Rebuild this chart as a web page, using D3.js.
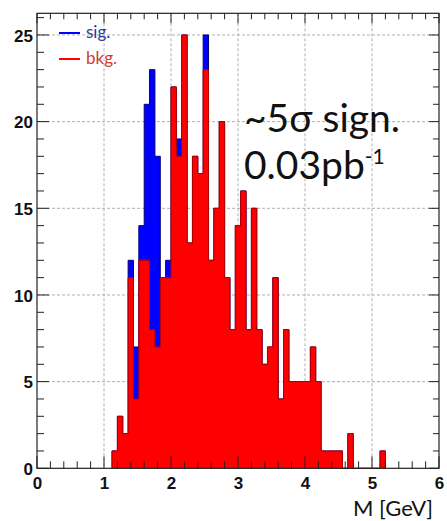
<!DOCTYPE html>
<html>
<head>
<meta charset="utf-8">
<script src="https://cdn.jsdelivr.net/npm/d3@7"></script>
<style>
  html, body { margin: 0; padding: 0; background: #fff; }
  svg { display: block; }
</style>
</head>
<body>
<svg id="chart" width="447" height="521"></svg>
<script>
// ---- data ----
const binWidth = 0.08;          // GeV
const firstBinLow = 1.12;       // GeV, lower edge of the first listed bin
const bkgCounts = [1,3,2,11,4,12,12,8,7,11,11,22,18,25,13,18,17,23,12,15,20,11,8,14,16,8,15,8,6,7,11,4,8,5,5,5,5,7,5,1,1,1,1,0,2,0,0,0,0,0,1];
const sigCounts = [0,0,0,1,3,2,9,15,11,0,1,0,1,0,0,0,0,2,0,0,0,0,0,0,0,0,0,0,0,0,0,0,0,0,0,0,0,0,0,0,0,0,0,0,0,0,0,0,0,0,0];
const xTicks = [0,1,2,3,4,5,6];
const yTicks = [0,5,10,15,20,25];
const legendItems = [{name:"sig.", color:"#0000ff", text:"#2e3a9c"}, {name:"bkg.", color:"#ff0000", text:"#d23b32"}];

// ---- layout ----
const svg = d3.select("#chart");
const pL = 37, pR = 439, pT = 13.3, pB = 468.3;
const x = d3.scaleLinear().domain([0, 6]).range([pL, pR]);
const y = d3.scaleLinear().domain([0, 26.25]).range([pB, pT]);

// grid
const grid = svg.append("g").attr("stroke", "#b0b0b0").attr("stroke-width", 1).attr("stroke-dasharray", "3,2");
xTicks.filter(d => d > 0 && d < 6).forEach(d => {
  grid.append("line").attr("x1", x(d)).attr("x2", x(d)).attr("y1", pT).attr("y2", pB);
});
yTicks.filter(d => d > 0).forEach(d => {
  grid.append("line").attr("x1", pL).attr("x2", pR).attr("y1", y(d)).attr("y2", y(d));
});

// histogram step points
function stepPoints(vals) {
  const pts = [[firstBinLow, 0]];
  vals.forEach((v, i) => {
    const lo = firstBinLow + i * binWidth, hi = lo + binWidth;
    pts.push([lo, v], [hi, v]);
  });
  pts.push([firstBinLow + vals.length * binWidth, 0]);
  return pts;
}
const totalCounts = bkgCounts.map((b, i) => b + sigCounts[i]);
const line = d3.line().x(d => x(d[0])).y(d => y(d[1]));
const area = d3.area().x(d => x(d[0])).y0(y(0)).y1(d => y(d[1]));

svg.append("path").datum(stepPoints(totalCounts)).attr("d", area).attr("fill", "#0000ff");
svg.append("path").datum(stepPoints(totalCounts)).attr("d", line).attr("fill", "none").attr("stroke", "#00007a").attr("stroke-width", 1);
svg.append("path").datum(stepPoints(bkgCounts)).attr("d", area).attr("fill", "#ff0000");
svg.append("path").datum(stepPoints(bkgCounts)).attr("d", line).attr("fill", "none").attr("stroke", "#b00000").attr("stroke-width", 1);

// frame
svg.append("rect").attr("x", pL).attr("y", pT).attr("width", pR - pL).attr("height", pB - pT)
  .attr("fill", "none").attr("stroke", "#222").attr("stroke-width", 1.2);

// ticks (inward on all four sides)
const tk = svg.append("g").attr("stroke", "#222").attr("stroke-width", 1);
d3.range(0, 6.0001, 0.2).forEach(v => {
  const major = Math.abs(v - Math.round(v)) < 1e-6;
  const L = major ? 12 : 7;
  tk.append("line").attr("x1", x(v)).attr("x2", x(v)).attr("y1", pB).attr("y2", pB - L);
  tk.append("line").attr("x1", x(v)).attr("x2", x(v)).attr("y1", pT).attr("y2", pT + (major ? 10 : 6));
});
d3.range(0, 26.0001, 1).forEach(v => {
  const major = v % 5 === 0;
  const L = major ? 12 : 7;
  tk.append("line").attr("x1", pL).attr("x2", pL + L).attr("y1", y(v)).attr("y2", y(v));
  tk.append("line").attr("x1", pR).attr("x2", pR - (major ? 10 : 6)).attr("y1", y(v)).attr("y2", y(v));
});

// axes labels via d3 axes (tick labels only)
const xAxis = d3.axisBottom(x).tickValues(xTicks).tickSize(0).tickPadding(0).tickFormat(d3.format("d"));
const gx = svg.append("g").attr("transform", `translate(0,${pB + 5})`).call(xAxis);
gx.select(".domain").remove();
gx.selectAll("text").attr("font-family", "Liberation Sans, Arial, sans-serif").attr("font-weight", "bold")
  .attr("font-size", 17).attr("fill", "#111").attr("dy", "0.95em");

const yAxis = d3.axisLeft(y).tickValues(yTicks).tickSize(0).tickPadding(0).tickFormat(d3.format("d"));
const gy = svg.append("g").attr("transform", `translate(${pL - 4},0)`).call(yAxis);
gy.select(".domain").remove();
gy.selectAll("text").attr("font-family", "Liberation Sans, Arial, sans-serif").attr("font-weight", "bold")
  .attr("font-size", 17).attr("fill", "#111").attr("dy", "0.36em");

// x axis title
svg.append("text").attr("x", 433).attr("y", 516).attr("text-anchor", "end")
  .attr("font-family", "Lato, sans-serif").attr("font-size", 22).attr("fill", "#111").text("M [GeV]");

// legend
legendItems.forEach((d, i) => {
  const ly = 33 + i * 26;
  svg.append("line").attr("x1", 59).attr("x2", 80).attr("y1", ly).attr("y2", ly).attr("stroke", d.color).attr("stroke-width", 2);
  svg.append("text").attr("x", 86).attr("y", ly + 5).attr("font-family", "Lato, sans-serif").attr("font-size", 17)
    .attr("fill", d.text).text(d.name);
});

// annotation
svg.append("text").attr("x", 244).attr("y", 132).attr("font-family", "Lato, sans-serif").attr("font-size", 39)
  .attr("fill", "#111").text("~5σ sign.");
const t2 = svg.append("text").attr("x", 244).attr("y", 179).attr("font-family", "Lato, sans-serif").attr("font-size", 39).attr("fill", "#111");
t2.append("tspan").text("0.03pb");
t2.append("tspan").attr("font-size", 21).attr("dy", -15).text("-1");
</script>
</body>
</html>
